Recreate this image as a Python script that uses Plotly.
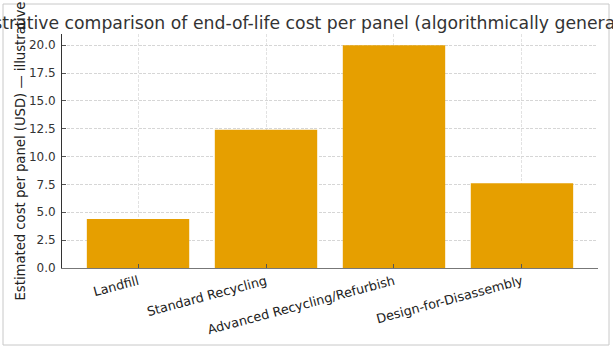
import plotly.graph_objects as go

categories = ["Landfill", "Standard Recycling", "Advanced Recycling/Refurbish", "Design-for-Disassembly"]
costs = [4.4, 12.4, 20.0, 7.6]
y_ticks = [0, 2.5, 5, 7.5, 10, 12.5, 15, 17.5, 20]
y_tick_labels = ["0.0", "2.5", "5.0", "7.5", "10.0", "12.5", "15.0", "17.5", "20.0"]

W, H = 613, 350
L, R, T, B = 62, 15, 34, 82
pw, ph = W - L - R, H - T - B

fig = go.Figure(go.Bar(x=list(range(len(categories))), y=costs, marker_color="#E69F00",
                       marker_line_width=0, width=0.8))

fig.update_layout(
    width=W, height=H,
    margin=dict(l=L, r=R, t=T, b=B, pad=0),
    paper_bgcolor="white", plot_bgcolor="white",
    font=dict(family="DejaVu Sans", color="#333333", size=12),
    title=dict(text="Illustrative comparison of end-of-life cost per panel (algorithmically generated)",
               x=309 / W, xref="container", xanchor="center", y=1, yref="paper", yanchor="bottom",
               pad=dict(b=5), font=dict(size=17.25, color="#333333")),
    showlegend=False,
)
fig.update_xaxes(
    tickmode="array", tickvals=list(range(len(categories))), ticktext=categories,
    range=[-0.594, 3.594], tickangle=-15,
    showgrid=True, gridcolor="#e2e2e2", griddash="3px,1.5px", gridwidth=0.8,
    showline=True, linecolor="#777777", linewidth=1.3,
    ticks="inside", ticklen=4, tickcolor="#555555",
    layer="above traces", zeroline=False, tickfont=dict(size=12.8, color="#222222"),
)
fig.update_yaxes(
    tickmode="array", tickvals=y_ticks, ticktext=y_tick_labels,
    range=[0, 21.0],
    showgrid=True, gridcolor="#d6d6d6", griddash="3px,1.5px", gridwidth=0.8,
    showline=True, linecolor="#333333", linewidth=1,
    ticks="inside", ticklen=4, tickcolor="#555555",
    zeroline=False, tickfont=dict(size=12, color="#333333"), ticklabelstandoff=3,
    title=dict(text="Estimated cost per panel (USD) — illustrative", font=dict(size=13.2, color="#222222"), standoff=0),
)

# outer figure frame
fig.add_shape(type="rect", xref="paper", yref="paper",
              x0=(3 - L) / pw, x1=(609 - L) / pw,
              y0=(H - B - 345) / ph, y1=(H - B - 4) / ph,
              line=dict(color="#c8c8c8", width=1), fillcolor="rgba(0,0,0,0)", layer="below")

fig.write_html("out.html")
